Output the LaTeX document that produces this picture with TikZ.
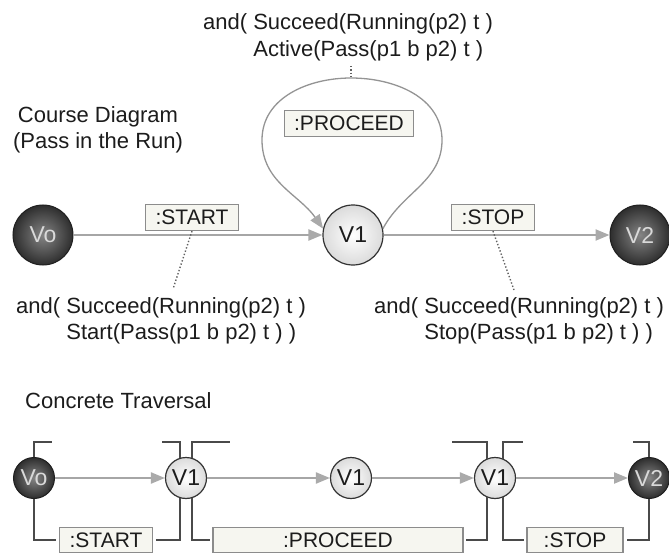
\documentclass[tikz,border=0pt]{standalone}
\usepackage{fontspec}
\setmainfont{Liberation Sans}
\usetikzlibrary{arrows.meta}

\definecolor{ink}{HTML}{1C1C1C}
\definecolor{wire}{HTML}{A6A6A6}
\definecolor{tipgray}{HTML}{AAAAAA}
\definecolor{frame}{HTML}{8C8C8C}
\definecolor{boxfill}{HTML}{F6F6F0}
\definecolor{bracket}{HTML}{4A4A4A}

\tikzset{
  statefont/.style={font=\fontsize{23}{23}\selectfont},
  darkstate/.style={circle, draw=black!88, line width=1pt, inner color=black!48,
    outer color=black!82, text=white!85!black, inner sep=0pt, statefont},
  lightstate/.style={circle, draw=black!80, line width=1.2pt, inner color=white,
    outer color=black!14, text=ink, inner sep=0pt, statefont},
  bigstate/.style={minimum size=60pt},
  smallstate/.style={minimum size=41pt},
  tag/.style={draw=frame, line width=1.2pt, fill=boxfill, text=ink, inner xsep=10pt,
    inner ysep=0pt, minimum height=26pt, font=\fontsize{21}{21}\selectfont},
  flow/.style={draw=wire, line width=2.2pt,
    -{Triangle[length=14pt,width=11pt,color=tipgray]}},
  loopline/.style={draw=black!42, line width=1.3pt,
    -{Triangle[length=14pt,width=11pt,color=tipgray]}},
  note/.style={inner sep=0pt, text=ink, font=\fontsize{22}{22}\selectfont},
  link/.style={draw=black!62, line width=1.4pt, dotted},
  bracketline/.style={draw=bracket, line width=2pt}
}

\begin{document}
\begin{tikzpicture}[x=1pt,y=1pt]
\useasboundingbox (0,0) rectangle (669,-556);

% ---------- course diagram ----------
\node[note, anchor=base] (title1) at (98,-123) {Course Diagram};
\node[note, anchor=base] (title2) at (98,-149) {(Pass in the Run)};

\node[darkstate, bigstate]  (a0) at (43,-235)  {Vo};
\node[lightstate, bigstate] (a1) at (353,-235) {V1};
\node[darkstate, bigstate]  (a2) at (640,-235) {V2};

\draw[flow] (a0) -- (a1);
\draw[flow] (a1) -- (a2);

% self loop on V1
\coordinate (loopR) at (442,-140);
\coordinate (apex)  at (351,-78);
\coordinate (loopL) at (262,-140);
\draw[loopline] (a1.12) to[out=62,in=-90] (loopR) to[out=90,in=0] (apex)
  to[out=180,in=90] (loopL) to[out=-90,in=125] (a1.168);

\node[tag] (tstart)   at (192,-217.5) {:START};
\node[tag] (tproceed) at (349,-123.5) {:PROCEED};
\node[tag] (tstop)    at (493,-217.5) {:STOP};

% conditions attached to the transitions
\node[note, anchor=base west] (np1) at (203,-30) {and( Succeed(Running(p2) t )};
\node[note, anchor=base west] (np2) at (203,-57) {\hphantom{and( }Active(Pass(p1 b p2) t )};

\node[note, anchor=base west] (ns1) at (16,-313) {and( Succeed(Running(p2) t )};
\node[note, anchor=base west] (ns2) at (16,-339) {\hphantom{and( }Start(Pass(p1 b p2) t ) )};

\node[note, anchor=base west] (nt1) at (374,-313) {and( Succeed(Running(p2) t )};
\node[note, anchor=base west] (nt2) at (374,-339) {\hphantom{and( }Stop(Pass(p1 b p2) t ) )};

\coordinate (dstart) at (173,-289);
\coordinate (dstop)  at (514,-290);
\draw[link] (tstart.south) -- (dstart);
\draw[link] (tstop.south) -- (dstop);
\draw[link, shorten <=4pt] (np2.south -| apex) -- (apex);

% ---------- concrete traversal ----------
\node[note, anchor=base west] (title3) at (25,-408) {Concrete Traversal};

\node[darkstate, smallstate]  (b0) at (34,-478)  {Vo};
\node[lightstate, smallstate] (b1) at (186,-478) {V1};
\node[lightstate, smallstate] (b2) at (351,-478) {V1};
\node[lightstate, smallstate] (b3) at (495,-478) {V1};
\node[darkstate, smallstate]  (b4) at (649,-478) {V2};

\draw[flow] (b0) -- (b1);
\draw[flow] (b1) -- (b2);
\draw[flow] (b2) -- (b3);
\draw[flow] (b3) -- (b4);

\node[tag, minimum height=25pt] (s1) at (106,-540) {:START};
\node[tag, minimum height=25pt, minimum width=250pt] (s2) at (338,-540) {:PROCEED};
\node[tag, minimum height=25pt, minimum width=96pt]  (s3) at (575,-540) {:STOP};

% segment brackets
\coordinate (k0)  at (52,-442);
\coordinate (k1l) at (162,-442);
\coordinate (k1r) at (230,-442);
\coordinate (k3l) at (452,-442);
\coordinate (k3r) at (523,-442);
\coordinate (k4)  at (633,-442);

\draw[bracketline] (b0.north) |- (k0);
\draw[bracketline, shorten >=3pt] (b0.south) |- (s1.west);

\draw[bracketline] (b1.107) |- (k1l);
\draw[bracketline] (b1.73)  |- (k1r);
\draw[bracketline, shorten >=3pt] (b1.253) |- (s1.east);
\draw[bracketline, shorten >=2pt] (b1.287) |- (s2.west);

\draw[bracketline] (b3.113) |- (k3l);
\draw[bracketline] (b3.67)  |- (k3r);
\draw[bracketline, shorten >=2pt] (b3.247) |- (s2.east);
\draw[bracketline, shorten >=2pt] (b3.293) |- (s3.west);

\draw[bracketline] (b4.north) |- (k4);
\draw[bracketline, shorten >=3pt] (b4.south) |- (s3.east);
\end{tikzpicture}
\end{document}
